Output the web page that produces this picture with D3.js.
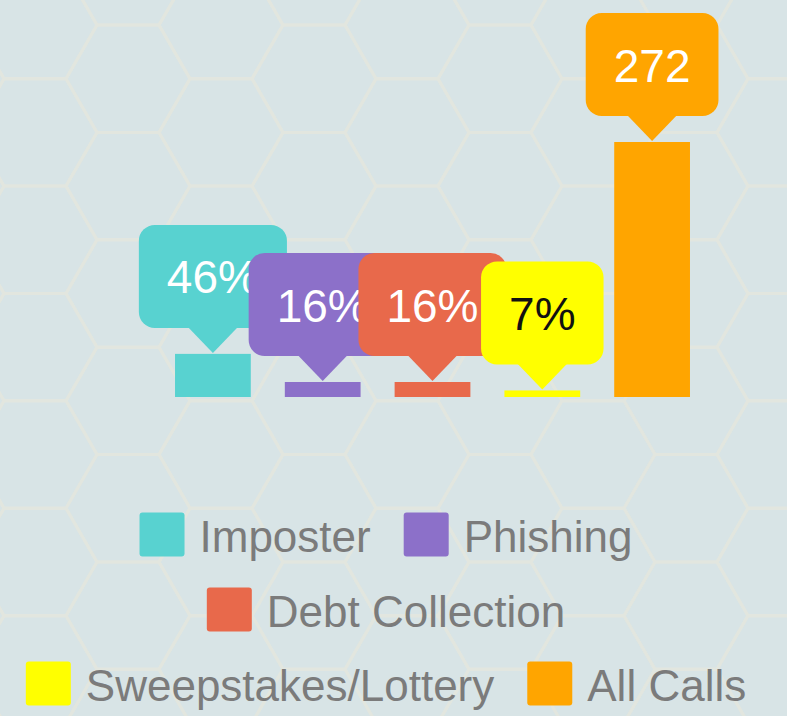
<!DOCTYPE html>
<html>
<head>
<meta charset="utf-8">
<script src="https://cdn.jsdelivr.net/npm/d3@7"></script>
<style>
  html, body { margin: 0; padding: 0; background: #d8e4e6; }
  svg { display: block; }
</style>
</head>
<body>
<svg id="chart" width="787" height="716"></svg>
<script>
// ---- data ----
const categories = ["Imposter", "Phishing", "Debt Collection", "Sweepstakes/Lottery", "All Calls"];
const values = [46, 16, 16, 7, 272];
const labels = ["46%", "16%", "16%", "7%", "272"];
const colors = ["#58d2d0", "#8c70c9", "#e8694b", "#ffff00", "#ffa500"];
const labelColors = ["#ffffff", "#ffffff", "#ffffff", "#111111", "#ffffff"];
const legendRows = [["Imposter", "Phishing"], ["Debt Collection"], ["Sweepstakes/Lottery", "All Calls"]];

const W = 787, H = 716;
const svg = d3.select("#chart");
const font = "'Liberation Sans', Arial, Helvetica, sans-serif";

// ---- hexagon background ----
const s = 62, hh = s * Math.sqrt(3) / 2;
const hexPts = d3.range(6).map(k => [s * Math.cos(k * Math.PI / 3), s * Math.sin(k * Math.PI / 3)]);
const bg = svg.append("g");
bg.append("rect").attr("width", W).attr("height", H).attr("fill", "#d8e4e6");
const hexG = bg.append("g").attr("fill", "none").attr("stroke", "#e2e6df").attr("stroke-width", 3);
for (let i = -2; i < 11; i++) {
  for (let j = -2; j < 9; j++) {
    const cx = 128 + i * 1.5 * s;
    const cy = 78.7 + j * 2 * hh + (Math.abs(i) % 2 ? hh : 0);
    hexG.append("path")
      .attr("d", "M" + hexPts.map(p => [cx + p[0], cy + p[1]].join(",")).join("L") + "Z");
  }
}

// ---- scales ----
const x = d3.scaleBand().domain(categories).range([158, 707]).paddingInner(0.31).paddingOuter(0.155);
const y = d3.scaleLinear().domain([0, 272]).range([397, 142]);

const data = categories.map((c, i) => ({ c, v: values[i], label: labels[i], color: colors[i], tc: labelColors[i] }));

// ---- bars ----
svg.append("g").selectAll("rect").data(data).join("rect")
  .attr("x", d => x(d.c))
  .attr("width", x.bandwidth())
  .attr("y", d => y(d.v))
  .attr("height", d => y(0) - y(d.v))
  .attr("fill", d => d.color);

// ---- callouts ----
const boxH = 103, ptrH = 25, ptrW = 25, padX = 28, r = 16, fs = 46;
const cg = svg.append("g");
data.forEach(d => {
  const g = cg.append("g");
  const cx = x(d.c) + x.bandwidth() / 2;
  const tip = y(d.v) - 1;
  const bottom = tip - ptrH;
  const top = bottom - boxH;
  const t = g.append("text")
    .attr("font-family", font).attr("font-size", fs)
    .attr("text-anchor", "middle")
    .attr("x", cx).attr("y", (top + bottom) / 2 + 17)
    .attr("fill", d.tc)
    .text(d.label);
  const tw = t.node().getComputedTextLength();
  const bw = tw + padX * 2;
  g.insert("path", "text")
    .attr("d", `M${cx - ptrW},${bottom - 1}L${cx},${tip}L${cx + ptrW},${bottom - 1}Z`)
    .attr("fill", d.color);
  g.insert("rect", "text")
    .attr("x", cx - bw / 2).attr("y", top)
    .attr("width", bw).attr("height", boxH)
    .attr("rx", r).attr("ry", r)
    .attr("fill", d.color);
});

// ---- legend ----
const sw = 45, swGap = 15, itemGap = 33, lfs = 44;
const rowCenters = [535, 610, 684];
const colorOf = c => colors[categories.indexOf(c)];
const lg = svg.append("g");
legendRows.forEach((row, ri) => {
  const rg = lg.append("g");
  let cur = 0;
  row.forEach((name, k) => {
    if (k > 0) cur += itemGap;
    rg.append("rect")
      .attr("x", cur).attr("y", rowCenters[ri] - sw / 2)
      .attr("width", sw).attr("height", sw - 1)
      .attr("rx", 3).attr("fill", colorOf(name));
    cur += sw + swGap;
    const t = rg.append("text")
      .attr("font-family", font).attr("font-size", lfs)
      .attr("fill", "#7b7b7b")
      .attr("x", cur).attr("y", rowCenters[ri] + 17)
      .text(name);
    cur += t.node().getComputedTextLength();
  });
  rg.attr("transform", `translate(${386 - cur / 2},0)`);
});
</script>
</body>
</html>
